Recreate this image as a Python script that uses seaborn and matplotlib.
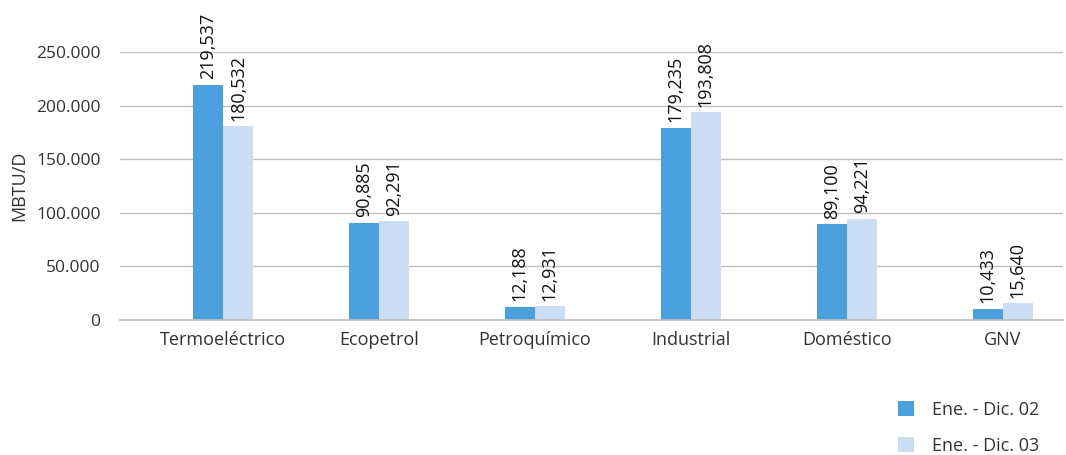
import matplotlib
matplotlib.use("Agg")
import matplotlib.pyplot as plt
import seaborn as sns
import pandas as pd
from matplotlib.ticker import FuncFormatter

categories = ["Termoeléctrico", "Ecopetrol", "Petroquímico", "Industrial", "Doméstico", "GNV"]
series_names = ["Ene. - Dic. 02", "Ene. - Dic. 03"]
values_02 = [219537, 90885, 12188, 179235, 89100, 10433]
values_03 = [180532, 92291, 12931, 193808, 94221, 15640]
colors = ["#4A9FDD", "#CADDF3"]

df = pd.DataFrame({
    "cat": categories * 2,
    "serie": [series_names[0]] * len(categories) + [series_names[1]] * len(categories),
    "val": values_02 + values_03,
})

sns.set_theme(style="white")
plt.rcParams["font.family"] = ["Open Sans", "DejaVu Sans"]
text_color = "#333333"

fig = plt.figure(figsize=(10.66, 4.55), dpi=100)
ax = fig.add_axes([0.1126, 0.2967, 0.8844, 0.589])

sns.barplot(data=df, x="cat", y="val", hue="serie", palette=colors, width=0.385,
            gap=0, saturation=1, ax=ax, legend=True, linewidth=0)

ax.set_ylim(0, 250000)
ax.set_xlim(-0.66, 5.385)
ax.set_yticks([0, 50000, 100000, 150000, 200000, 250000])
ax.yaxis.set_major_formatter(FuncFormatter(lambda v, p: f"{int(v):,}".replace(",", ".")))
ax.grid(axis="y", color="#BFBFBF", linewidth=1)
ax.set_axisbelow(True)
for s in ["top", "right", "left"]:
    ax.spines[s].set_visible(False)
ax.spines["bottom"].set_color("#BFBFBF")
ax.tick_params(axis="both", length=0, colors=text_color)
ax.tick_params(axis="x", pad=8, labelsize=13)
ax.tick_params(axis="y", pad=14, labelsize=12.5)
ax.set_xlabel("")
ax.set_ylabel("MBTU/D", color=text_color, fontsize=13, labelpad=6)

for cont in ax.containers:
    labels = [f"{int(b.get_height()):,}" for b in cont]
    ax.bar_label(cont, labels=labels, rotation=90, padding=4, fontsize=13,
                 color="#111111", clip_on=False)

handles, lbls = ax.get_legend_handles_labels()
ax.get_legend().remove()
fig.legend(handles, lbls, loc="lower right", bbox_to_anchor=(0.99, -0.035),
           frameon=False, fontsize=13, labelspacing=1.0, handlelength=0.9,
           handleheight=0.9, handletextpad=1.0, labelcolor=text_color)

fig.savefig("out.png", dpi=100)
